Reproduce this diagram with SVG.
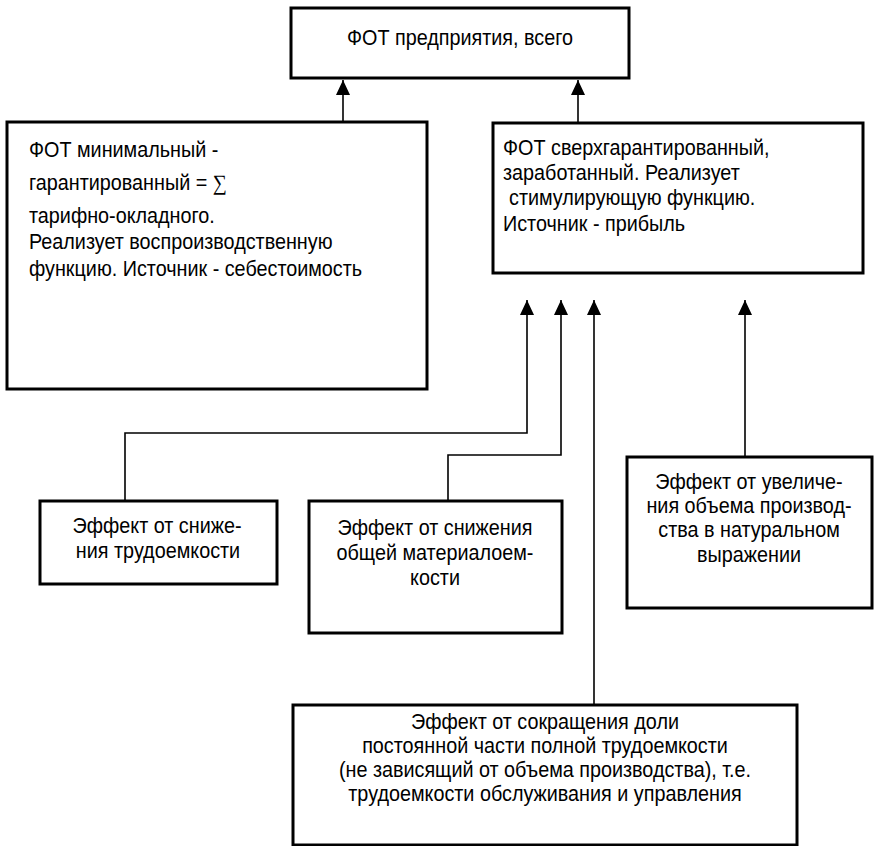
<svg xmlns="http://www.w3.org/2000/svg" width="874" height="846" viewBox="0 0 874 846">
<style>
.box{fill:#fff;stroke:#000;stroke-width:3}
.t{font-family:"Liberation Sans",Arial,sans-serif;font-size:22px;fill:#000}
.c{text-anchor:middle}
.ln{fill:none;stroke:#000;stroke-width:1.6}
.sig{font-family:"Liberation Serif","DejaVu Serif",serif}
</style>
<defs>
<marker id="ah" viewBox="0 0 15 14" refX="15" refY="7" markerWidth="15" markerHeight="14" markerUnits="userSpaceOnUse" orient="auto">
<path d="M0,0 L15,7 L0,14 z" fill="#000"/>
</marker>
</defs>
<rect width="874" height="846" fill="#fff"/>
<g id="connectors">
<path class="ln" d="M343,121 V80" marker-end="url(#ah)"/>
<path class="ln" d="M578,122 V80" marker-end="url(#ah)"/>
<path class="ln" d="M125,500 V433 H527 V300" marker-end="url(#ah)"/>
<path class="ln" d="M448,500 V455 H561 V300" marker-end="url(#ah)"/>
<path class="ln" d="M594,704 V300" marker-end="url(#ah)"/>
<path class="ln" d="M745,456 V300" marker-end="url(#ah)"/>
</g>
<g id="fot_total">
<rect class="box" x="291" y="8" width="338" height="70"/>
<text class="t c" transform="translate(460 45) scale(0.9 1)">ФОТ предприятия, всего</text>
</g>
<g id="fot_min">
<rect class="box" x="7" y="122" width="420" height="267"/>
<text class="t" transform="translate(29 157) scale(0.9 1)">ФОТ минимальный -</text>
<text class="t" transform="translate(29 190) scale(0.9 1)">гарантированный = <tspan class="sig">∑</tspan></text>
<text class="t" transform="translate(29 223) scale(0.9 1)">тарифно-окладного.</text>
<text class="t" transform="translate(29 249) scale(0.9 1)">Реализует воспроизводственную</text>
<text class="t" transform="translate(29 276) scale(0.9 1)">функцию. Источник - себестоимость</text>
</g>
<g id="fot_over">
<rect class="box" x="493" y="123" width="370" height="150"/>
<text class="t" transform="translate(503 155) scale(0.9 1)">ФОТ сверхгарантированный,</text>
<text class="t" transform="translate(503 180) scale(0.9 1)">заработанный. Реализует</text>
<text class="t" transform="translate(509 205) scale(0.9 1)">стимулирующую функцию.</text>
<text class="t" transform="translate(503 231) scale(0.9 1)">Источник - прибыль</text>
</g>
<g id="eff_labor">
<rect class="box" x="40" y="501" width="237" height="83"/>
<text class="t c" transform="translate(157 533) scale(0.9 1)">Эффект от сниже-</text>
<text class="t c" transform="translate(158 558) scale(0.9 1)">ния трудоемкости</text>
</g>
<g id="eff_material">
<rect class="box" x="309" y="501" width="253" height="132"/>
<text class="t c" transform="translate(435 535) scale(0.9 1)">Эффект от снижения</text>
<text class="t c" transform="translate(435 560) scale(0.9 1)">общей материалоем-</text>
<text class="t c" transform="translate(435 585) scale(0.9 1)">кости</text>
</g>
<g id="eff_volume">
<rect class="box" x="627" y="457" width="245" height="151"/>
<text class="t c" transform="translate(749 489) scale(0.9 1)">Эффект от увеличе-</text>
<text class="t c" transform="translate(749 513) scale(0.9 1)">ния объема производ-</text>
<text class="t c" transform="translate(749 537) scale(0.9 1)">ства в натуральном</text>
<text class="t c" transform="translate(749 562) scale(0.9 1)">выражении</text>
</g>
<g id="eff_fixed">
<rect class="box" x="293" y="705" width="504" height="140"/>
<text class="t c" transform="translate(545 729) scale(0.9 1)">Эффект от сокращения доли</text>
<text class="t c" transform="translate(545 753) scale(0.9 1)">постоянной части полной трудоемкости</text>
<text class="t c" transform="translate(545 777) scale(0.9 1)">(не зависящий от объема производства), т.е.</text>
<text class="t c" transform="translate(545 801) scale(0.9 1)">трудоемкости обслуживания и управления</text>
</g>
</svg>
